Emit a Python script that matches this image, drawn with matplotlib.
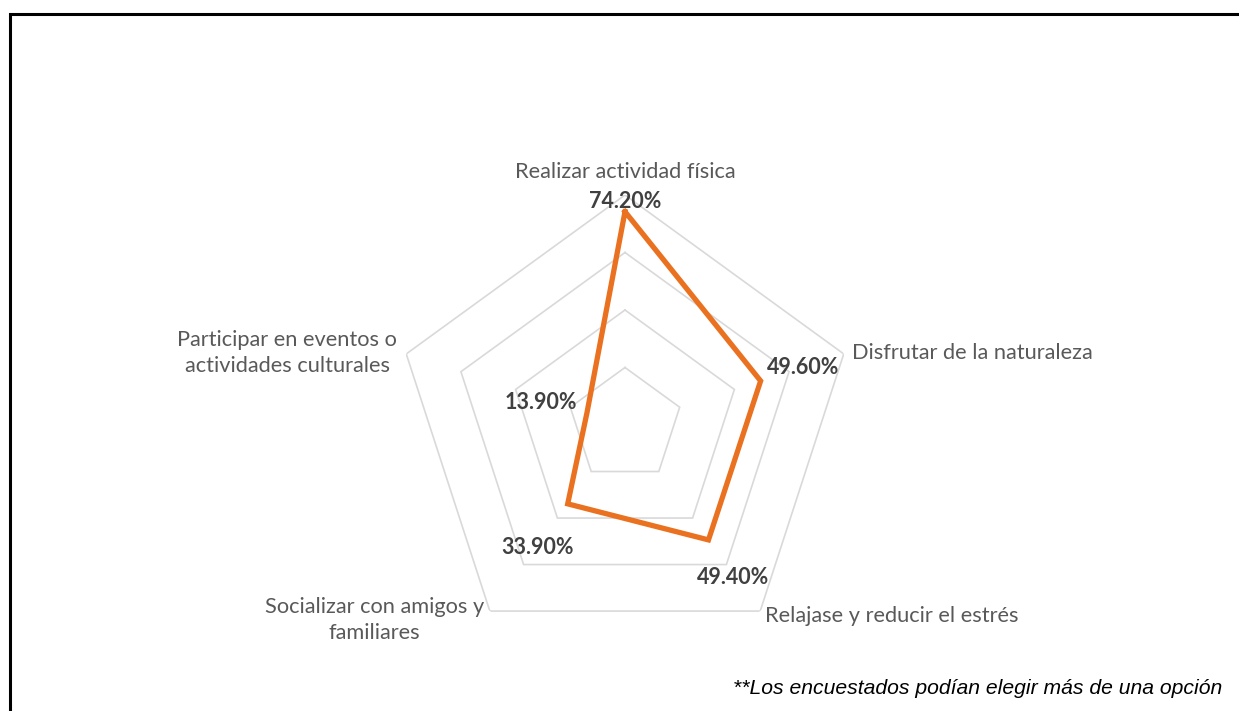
import numpy as np
import matplotlib.pyplot as plt
from matplotlib.patches import Rectangle

# Motivos para realizar actividades al aire libre (% de encuestados)
categorias = [
    "Realizar actividad física",
    "Disfrutar de la naturaleza",
    "Relajase y reducir el estrés",
    "Socializar con amigos y\nfamiliares",
    "Participar en eventos o\nactividades culturales",
]
porcentajes = [74.2, 49.6, 49.4, 33.9, 13.9]
anillos = [20, 40, 60, 80]

# colocación de textos (desplazamiento en píxeles, alineación)
pos_etiquetas = [((0, 10), "center", "center"),
                 ((43, 13), "center", "center"),
                 ((25, -38), "center", "center"),
                 ((-30, -44), "center", "center"),
                 ((-46, 10), "center", "center")]
pos_categorias = [((0, 23), "center", "center"),
                  ((8, 1), "left", "center"),
                  ((5, -5), "left", "center"),
                  ((-6, -9), "right", "center"),
                  ((-9, 1), "right", "center")]

W, H = 1239, 711
fig = plt.figure(figsize=(W / 100, H / 100), dpi=100)
fig.patch.set_facecolor("white")

# marco negro del gráfico
fig.add_artist(Rectangle((9.5 / W, -0.1), 1.2, (H - 13.5) / H + 0.1,
                         transform=fig.transFigure, fill=False,
                         edgecolor="black", linewidth=2.2))

cx, cy, R = 625, H - 425, 230
ax = fig.add_axes([(cx - R) / W, (cy - R) / H, 2 * R / W, 2 * R / H],
                  projection="polar")
ax.set_theta_zero_location("N")
ax.set_theta_direction(-1)
ax.set_ylim(0, 80)
ax.grid(False)
ax.set_xticks([])
ax.set_yticks([])
ax.spines["polar"].set_visible(False)
ax.set_facecolor("none")

theta = np.linspace(0, 2 * np.pi, len(categorias), endpoint=False)
theta_c = np.append(theta, theta[0])

# anillos pentagonales
for r in anillos:
    ax.plot(theta_c, [r] * len(theta_c), color="#D9D9D9", lw=1.2,
            solid_joinstyle="miter", zorder=1)

vals = np.append(porcentajes, porcentajes[0])
ax.plot(theta_c, vals, color="#EA7120", lw=3.8, solid_joinstyle="miter",
        zorder=3)

for t, v, (off, ha, va) in zip(theta, porcentajes, pos_etiquetas):
    ax.annotate(f"{v:.2f}%", (t, v), xytext=off, textcoords="offset pixels",
                ha=ha, va=va, fontsize=15.5, fontweight="bold",
                color="#404040", family="Lato", zorder=4)

for t, nombre, (off, ha, va) in zip(theta, categorias, pos_categorias):
    ax.annotate(nombre, (t, anillos[-1]), xytext=off,
                textcoords="offset pixels", ha=ha, va=va,
                multialignment="center", fontsize=15.7, color="#595959",
                family="Lato", linespacing=1.4, annotation_clip=False)

fig.text(1222 / W, 1 - 689 / H,
         "**Los encuestados podían elegir más de una opción",
         ha="right", va="center", fontsize=15.2, style="italic",
         family="Liberation Sans", color="black")

fig.savefig("out.png", dpi=100)
